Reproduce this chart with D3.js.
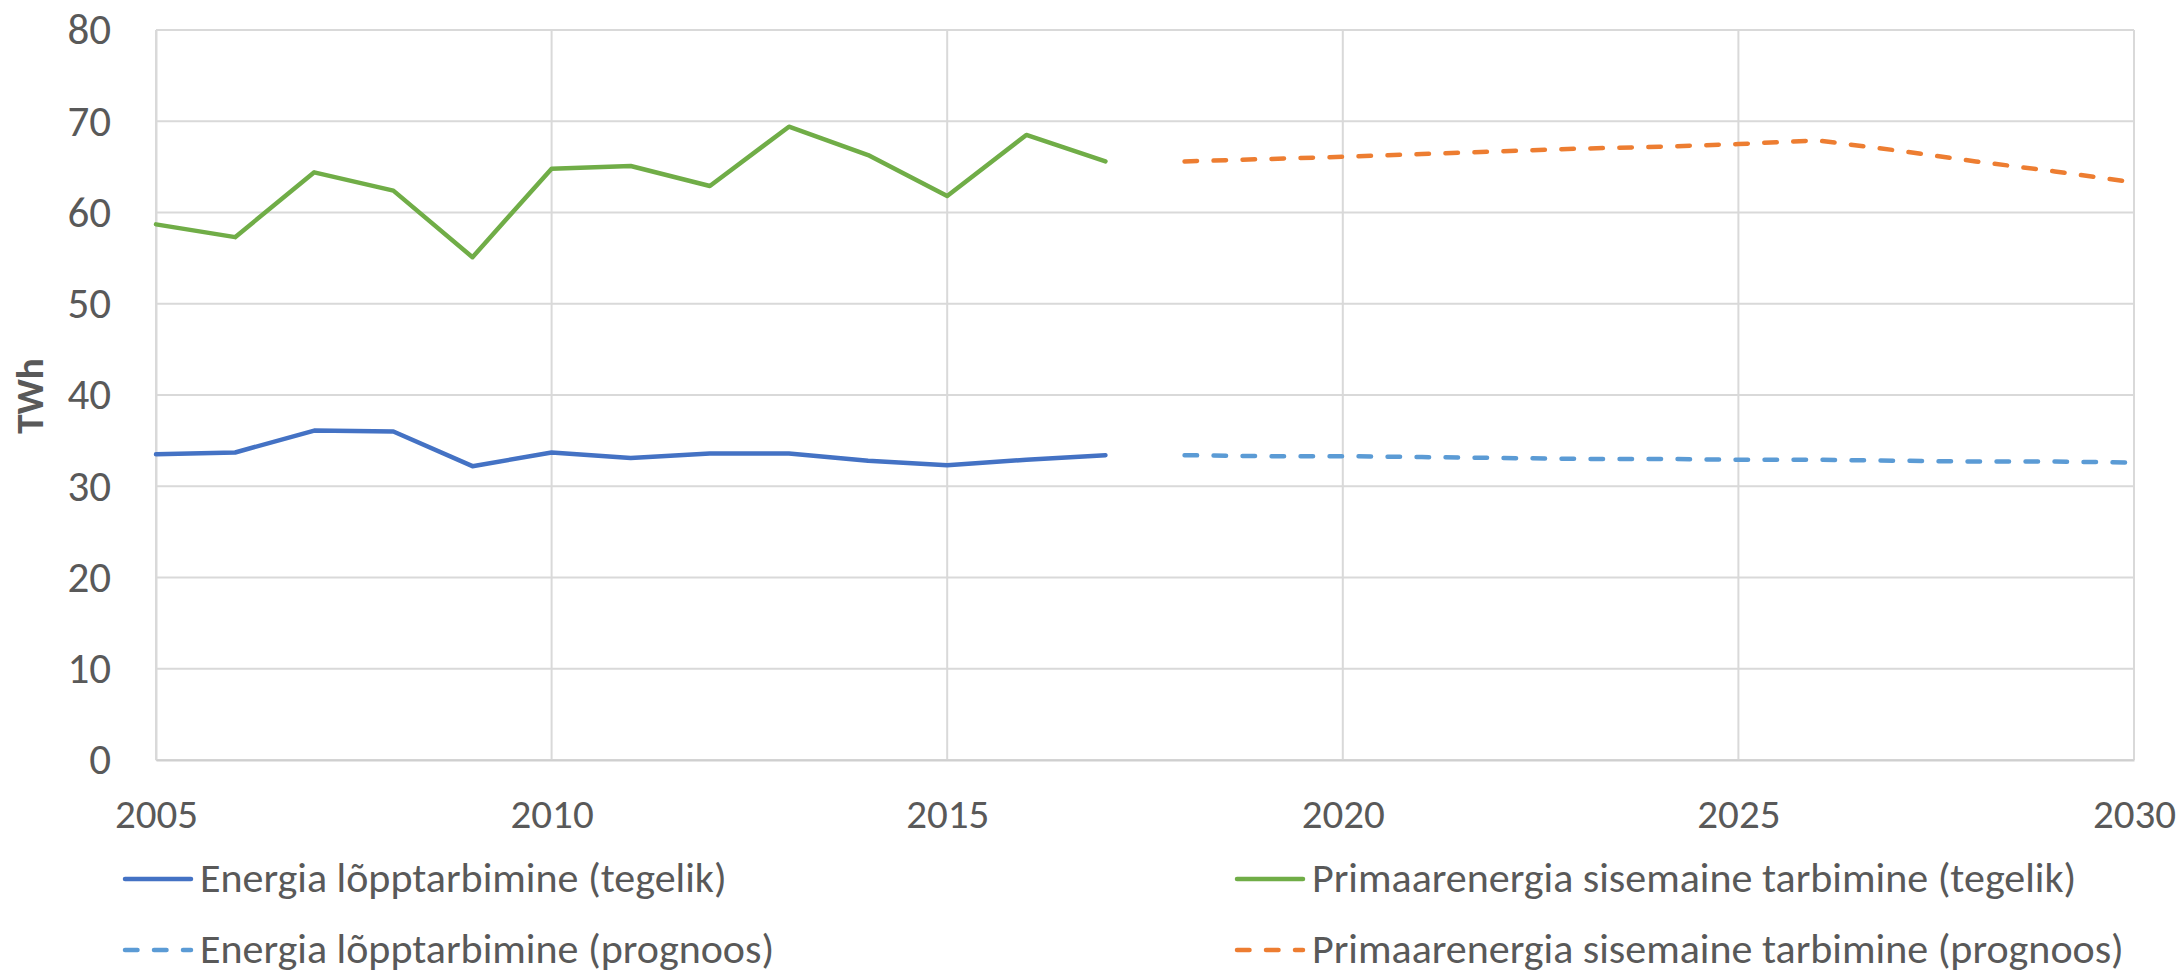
<!DOCTYPE html>
<html>
<head>
    <meta charset="utf-8">
    <title>Energia tarbimine</title>
    <style>
        body{
            margin: 0;
            background: white;
        }
        svg{
            display: block;
            font-family: Carlito, Calibri, Lato, sans-serif;
        }
    </style>
    <script src="https://d3js.org/d3.v7.min.js"></script>
</head>
<body>
    <svg width="2184" height="973"></svg>

    <script>
        // andmed
        var yearsActual = [2005, 2006, 2007, 2008, 2009, 2010, 2011, 2012, 2013, 2014, 2015, 2016, 2017];
        var yearsForecast = [2018, 2019, 2020, 2021, 2022, 2023, 2024, 2025, 2026, 2027, 2028, 2029, 2030];

        var finalActual = [33.5, 33.7, 36.1, 36.0, 32.2, 33.7, 33.1, 33.6, 33.6, 32.8, 32.3, 32.9, 33.4];
        var primaryActual = [58.7, 57.3, 64.4, 62.4, 55.1, 64.8, 65.1, 62.9, 69.4, 66.3, 61.8, 68.5, 65.6];
        var finalForecast = [33.4, 33.3, 33.3, 33.2, 33.1, 33.0, 33.0, 32.9, 32.9, 32.8, 32.7, 32.7, 32.6];
        var primaryForecast = [65.6, 65.85, 66.1, 66.4, 66.7, 67.0, 67.2, 67.5, 67.9, 66.8, 65.6, 64.5, 63.3];

        var seriesNames = [
            "Energia lõpptarbimine (tegelik)",
            "Primaarenergia sisemaine tarbimine (tegelik)",
            "Energia lõpptarbimine (prognoos)",
            "Primaarenergia sisemaine tarbimine (prognoos)"
        ];
        var xTicks = [2005, 2010, 2015, 2020, 2025, 2030];
        var yTicks = [0, 10, 20, 30, 40, 50, 60, 70, 80];

        var series = [
            {name: seriesNames[0], years: yearsActual, values: finalActual, color: "#4472C4", dash: null},
            {name: seriesNames[1], years: yearsActual, values: primaryActual, color: "#70AD47", dash: null},
            {name: seriesNames[2], years: yearsForecast, values: finalForecast, color: "#5B9BD5", dash: "12.5,16.5"},
            {name: seriesNames[3], years: yearsForecast, values: primaryForecast, color: "#ED7D31", dash: "12.5,16.5"}
        ];

        var svg = d3.select("svg");
        var textColor = "#595959";
        var gridColor = "#d9d9d9";

        var x = d3.scaleLinear().domain([2005, 2030]).range([156, 2134]);
        var y = d3.scaleLinear().domain([0, 80]).range([760, 30]);

        // ruudustik
        svg.append("g")
            .selectAll("line")
            .data(yTicks)
            .join("line")
            .attr("x1", x(2005)).attr("x2", x(2030))
            .attr("y1", d => y(d)).attr("y2", d => y(d))
            .attr("stroke", gridColor)
            .attr("stroke-width", 2);

        svg.append("g")
            .selectAll("line")
            .data(xTicks)
            .join("line")
            .attr("x1", d => x(d)).attr("x2", d => x(d))
            .attr("y1", y(0)).attr("y2", y(80))
            .attr("stroke", gridColor)
            .attr("stroke-width", 2);

        // teljed
        var yAxis = svg.append("g")
            .attr("transform", "translate(" + x(2005) + ",0)")
            .call(d3.axisLeft(y).tickValues(yTicks).tickSize(0).tickPadding(45));
        yAxis.select(".domain").attr("stroke", gridColor).attr("stroke-width", 2);
        yAxis.selectAll(".tick text")
            .attr("fill", textColor)
            .attr("font-size", "43px")
            .attr("font-family", "Carlito, Calibri, Lato, sans-serif");

        var xAxis = svg.append("g")
            .attr("transform", "translate(0," + y(0) + ")")
            .call(d3.axisBottom(x).tickValues(xTicks).tickFormat(d3.format("d")).tickSize(0));
        xAxis.select(".domain").attr("stroke", "#cfcfcf").attr("stroke-width", 2);
        xAxis.selectAll(".tick text")
            .attr("fill", textColor)
            .attr("font-size", "41px")
            .attr("font-family", "Carlito, Calibri, Lato, sans-serif")
            .attr("y", 68)
            .attr("dy", 0);

        // telje pealkiri
        svg.append("text")
            .attr("transform", "translate(43,396) rotate(-90)")
            .attr("text-anchor", "middle")
            .attr("fill", textColor)
            .attr("font-weight", "bold")
            .attr("font-size", "39px")
            .text("TWh");

        // jooned
        var line = d3.line()
            .x(d => x(d[0]))
            .y(d => y(d[1]));

        svg.append("g")
            .selectAll("path")
            .data(series)
            .join("path")
            .attr("fill", "none")
            .attr("stroke", d => d.color)
            .attr("stroke-width", 4.5)
            .attr("stroke-linejoin", "round")
            .attr("stroke-linecap", "round")
            .attr("stroke-dasharray", d => d.dash)
            .attr("d", d => line(d3.zip(d.years, d.values)));

        // legend
        var legendX = [123, 1235];
        var legendY = [879, 950];
        var legend = svg.append("g")
            .selectAll("g")
            .data(series)
            .join("g")
            .attr("transform", (d, i) => "translate(" + legendX[i % 2] + "," + legendY[Math.floor(i / 2)] + ")");

        legend.append("line")
            .attr("x1", 2).attr("x2", 68)
            .attr("y1", 0).attr("y2", 0)
            .attr("stroke", d => d.color)
            .attr("stroke-width", 4.5)
            .attr("stroke-linecap", "round")
            .attr("stroke-dasharray", d => d.dash ? "12.5,16.5" : null);

        legend.append("text")
            .attr("x", 77)
            .attr("y", 13)
            .attr("fill", textColor)
            .attr("font-size", "42px")
            .text(d => d.name);
    </script>
</body>
</html>
